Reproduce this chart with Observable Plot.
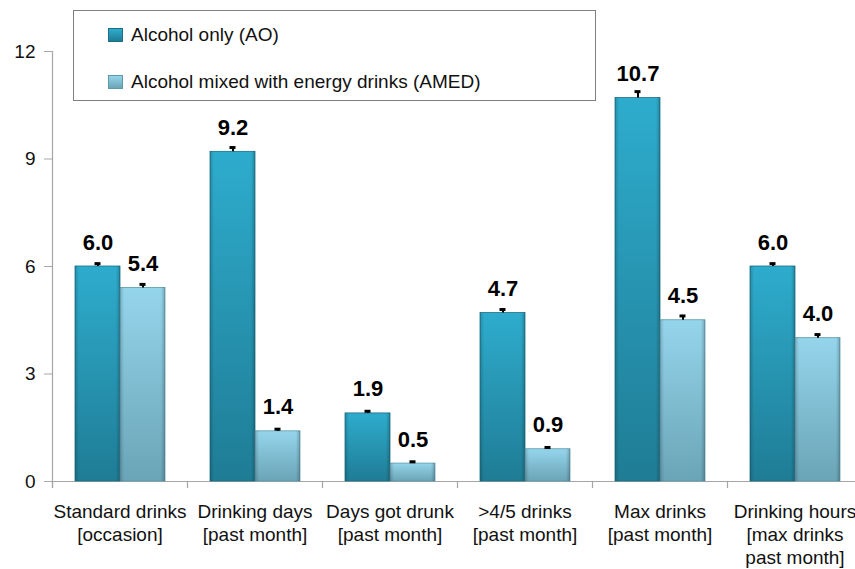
<!DOCTYPE html>
<html>
<head>
<meta charset="utf-8">
<script src="https://cdn.jsdelivr.net/npm/d3@7"></script>
<script src="https://cdn.jsdelivr.net/npm/@observablehq/plot@0.6"></script>
<style>
  html, body { margin: 0; padding: 0; background: #fff; overflow: hidden; }
  #wrap { position: relative; width: 855px; height: 569px; overflow: hidden; font-family: "Liberation Sans", Arial, sans-serif; }
  #legend { position: absolute; left: 73px; top: 10px; width: 521px; height: 89px; border: 1px solid #808080; background: #fff; }
  .item { position: absolute; left: 34px; display: flex; align-items: center; font-size: 19px; color: #111; }
  .sw { width: 15px; height: 14px; margin-right: 8px; box-sizing: border-box; }
</style>
</head>
<body>
<div id="wrap">
  <div id="chart"></div>
  <div id="legend"></div>
</div>
<script>
const categories = [
  "Standard drinks\n[occasion]",
  "Drinking days\n[past month]",
  "Days got drunk\n[past month]",
  ">4/5 drinks\n[past month]",
  "Max drinks\n[past month]",
  "Drinking hours\n[max drinks\npast month]"
];
const seriesKeys = ["AO", "AMED"];
const seriesNames = ["Alcohol only (AO)", "Alcohol mixed with energy drinks (AMED)"];
const aoValues = [6.0, 9.2, 1.9, 4.7, 10.7, 6.0];
const amedValues = [5.4, 1.4, 0.5, 0.9, 4.5, 4.0];
const aoErrors = [0.08, 0.12, 0.06, 0.1, 0.18, 0.08];
const amedErrors = [0.1, 0.06, 0.05, 0.05, 0.12, 0.1];
const yTicks = [0, 3, 6, 9, 12];

const data = categories.flatMap((c, i) => [
  {category: c, key: "AO", value: aoValues[i], err: aoErrors[i]},
  {category: c, key: "AMED", value: amedValues[i], err: amedErrors[i]}
]);
const ao = data.filter(d => d.key === "AO");
const amed = data.filter(d => d.key === "AMED");

const font = "'Liberation Sans', Arial, sans-serif";
const axisGray = "#a6a6a6";

function defs() {
  const d = d3.create("svg:defs");
  const mk = (id, stops, horiz) => {
    const g = d.append("linearGradient").attr("id", id)
      .attr("x1", 0).attr("y1", 0).attr("x2", horiz ? 1 : 0).attr("y2", horiz ? 0 : 1);
    stops.forEach(([o, c, op]) => g.append("stop").attr("offset", o).attr("stop-color", c).attr("stop-opacity", op ?? 1));
  };
  mk("gAO", [["0%", "#2eaccd"], ["100%", "#1f7c95"]]);
  mk("gAMED", [["0%", "#95d5ec"], ["100%", "#6aa4b6"]]);
  mk("gEdge", [["0%", "#000", 0.18], ["9%", "#000", 0], ["91%", "#000", 0], ["100%", "#000", 0.22]], true);
  return d.node();
}

const chart = Plot.plot({
  width: 880,
  height: 569,
  marginLeft: 50,
  marginRight: 16,
  marginTop: 51,
  marginBottom: 88,
  style: {fontFamily: font, maxWidth: "none", overflow: "visible", background: "#fff"},
  fx: {domain: categories, padding: 0, label: null},
  x: {domain: seriesKeys, paddingInner: 0, paddingOuter: 0.48, axis: null},
  y: {domain: [0, 12], axis: null},
  marks: [
    defs,
    Plot.ruleY([0], {stroke: axisGray, strokeWidth: 1.2}),
    Plot.frame({anchor: "left", stroke: axisGray, strokeWidth: 1.2, insetTop: 430, insetBottom: -6}),
    Plot.frame({anchor: "left", stroke: axisGray, strokeWidth: 1.2, insetBottom: -6, facetAnchor: "left"}),
    Plot.axisY({ticks: yTicks, tickSize: 8, stroke: axisGray, tickFormat: () => "", label: null}),
    Plot.axisY({ticks: yTicks, tickSize: 0, tickPadding: 17, fontSize: 19, fill: "#111", label: null}),
    Plot.axisFx({anchor: "bottom", tickSize: 0, tickPadding: 20, fontSize: 19, lineHeight: 1.21, fill: "#111", label: null}),
    Plot.barY(ao, {fx: "category", x: "key", y: "value", fill: "url(#gAO)", stroke: "#1b6f86", strokeWidth: 0.8}),
    Plot.barY(amed, {fx: "category", x: "key", y: "value", fill: "url(#gAMED)", stroke: "#5e98aa", strokeWidth: 0.8}),
    Plot.barY(data, {fx: "category", x: "key", y: "value", fill: "url(#gEdge)"}),
    Plot.ruleX(data, {fx: "category", x: "key", y1: "value", y2: d => d.value + d.err, stroke: "#000", strokeWidth: 2}),
    Plot.tickY(data, {fx: "category", x: "key", y: d => d.value + d.err, stroke: "#000", strokeWidth: 3, insetLeft: 19.5, insetRight: 19.5}),
    Plot.text(data, {fx: "category", x: "key", y: "value", text: d => d.value.toFixed(1), dy: -17, lineAnchor: "bottom", fontSize: 22, fontWeight: "bold", fill: "#000"})
  ]
});
document.getElementById("chart").appendChild(chart);

const legend = document.getElementById("legend");
const swatchBg = {
  AO: "linear-gradient(#2eaccd, #1f7c95)",
  AMED: "linear-gradient(#95d5ec, #6aa4b6)"
};
const tops = [13, 60];
seriesKeys.forEach((k, i) => {
  const it = document.createElement("div");
  it.className = "item";
  it.style.top = tops[i] + "px";
  const sw = document.createElement("div");
  sw.className = "sw";
  sw.style.background = swatchBg[k];
  sw.style.border = "1px solid " + (k === "AO" ? "#1b6f86" : "#5e98aa");
  const tx = document.createElement("span");
  tx.textContent = seriesNames[i];
  it.appendChild(sw);
  it.appendChild(tx);
  legend.appendChild(it);
});
</script>
</body>
</html>
